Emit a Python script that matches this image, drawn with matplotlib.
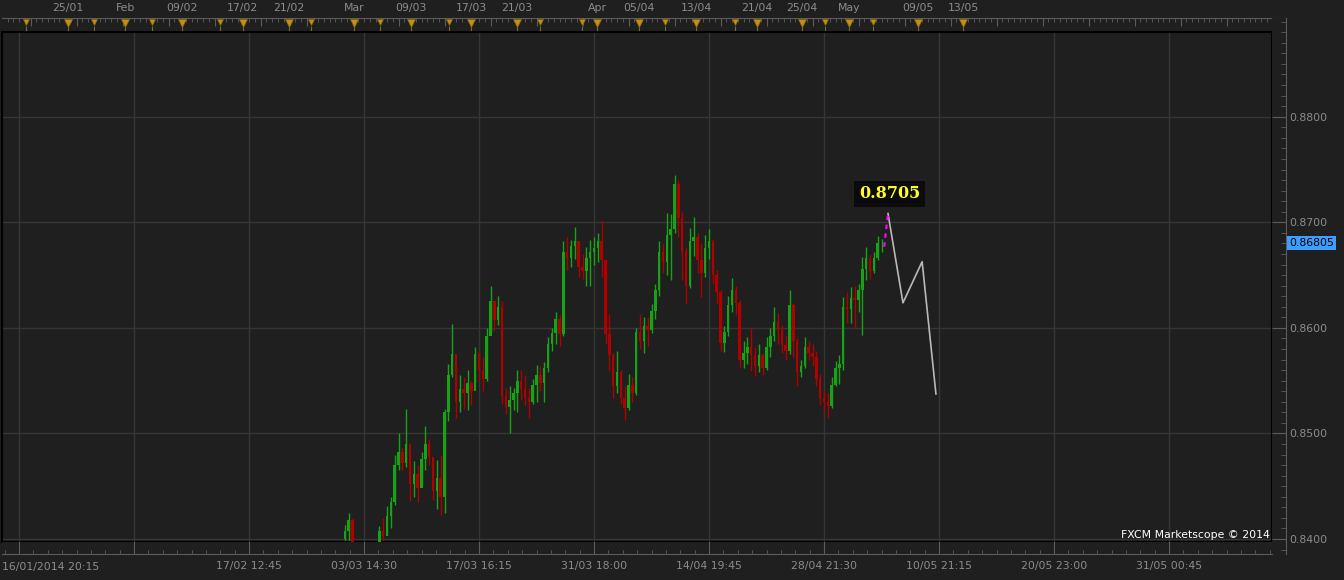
import numpy as np
import matplotlib
matplotlib.use('Agg')
import matplotlib.pyplot as plt
import matplotlib.transforms as mtransforms
from matplotlib.ticker import FixedLocator, MultipleLocator

W, H = 1344, 580
BG = '#1f1f1f'
GRID = '#363636'
FRAME = '#5c5c5c'
TXT = '#8c8c8c'
GREEN = '#16a316'
RED = '#b00000'

# bar index of the first candle (one candle = 8 hours, 30 candles per grid step)
FIRST_BAR = 85

highs = [.8413, .8425, .8420, .8398, .8394, .8392, .8394, .8399, .8396, .8412,
         .8420, .8431, .8440, .8480, .8500, .8486, .8523, .8482, .8474, .8470,
         .8482, .8507, .8495, .8470, .8475, .8480, .8523, .8566, .8604, .8565,
         .8555, .8553, .8560, .8550, .8582, .8578, .8572, .8600, .8640, .8622,
         .8630, .8625, .8543, .8545, .8543, .8560, .8560, .8555, .8543, .8552,
         .8565, .8564, .8568, .8591, .8600, .8615, .8612, .8682, .8686, .8683,
         .8696, .8680, .8670, .8677, .8683, .8686, .8690, .8701, .8665, .8613,
         .8576, .8578, .8560, .8545, .8556, .8553, .8600, .8613, .8610, .8610,
         .8623, .8642, .8682, .8680, .8709, .8708, .8745, .8740, .8710, .8676,
         .8695, .8705, .8690, .8680, .8688, .8694, .8684, .8655, .8636, .8602,
         .8630, .8647, .8640, .8626, .8588, .8591, .8600, .8582, .8585, .8576,
         .8591, .8600, .8620, .8614, .8603, .8592, .8636, .8624, .8590, .8570,
         .8591, .8588, .8585, .8578, .8556, .8540, .8538, .8553, .8569, .8574,
         .8629, .8634, .8639, .8640, .8642, .8667, .8677, .8670, .8672, .8687,
         .8684]
lows = [.8397, .8398, .8394, .8385, .8384, .8382, .8383, .8385, .8385, .8390,
        .8398, .8404, .8410, .8432, .8465, .8465, .8468, .8436, .8440, .8435,
        .8452, .8465, .8470, .8437, .8428, .8423, .8425, .8512, .8553, .8515,
        .8520, .8523, .8522, .8527, .8548, .8550, .8540, .8550, .8595, .8597,
        .8603, .8528, .8518, .8500, .8522, .8520, .8532, .8527, .8515, .8528,
        .8530, .8540, .8530, .8558, .8578, .8585, .8583, .8592, .8655, .8658,
        .8665, .8648, .8646, .8640, .8640, .8660, .8662, .8648, .8585, .8559,
        .8534, .8538, .8528, .8513, .8522, .8530, .8536, .8580, .8576, .8583,
        .8595, .8608, .8630, .8652, .8650, .8645, .8690, .8686, .8645, .8623,
        .8638, .8668, .8652, .8629, .8648, .8665, .8642, .8624, .8578, .8577,
        .8592, .8615, .8612, .8563, .8562, .8566, .8559, .8554, .8558, .8555,
        .8560, .8572, .8588, .8585, .8576, .8570, .8575, .8572, .8545, .8553,
        .8562, .8570, .8564, .8545, .8527, .8520, .8515, .8524, .8545, .8547,
        .8560, .8605, .8605, .8600, .8615, .8593, .8645, .8646, .8652, .8664,
        .8672]
closes = [.8408, .8418, .8396, .8390, .8388, .8386, .8391, .8388, .8393, .8408,
          .8403, .8422, .8435, .8470, .8482, .8472, .8490, .8452, .8462, .8448,
          .8476, .8490, .8478, .8445, .8458, .8440, .8520, .8555, .8575, .8530,
          .8542, .8538, .8548, .8540, .8575, .8560, .8552, .8592, .8625, .8607,
          .8620, .8535, .8525, .8532, .8538, .8550, .8542, .8534, .8530, .8546,
          .8555, .8548, .8562, .8585, .8595, .8608, .8594, .8672, .8666, .8678,
          .8682, .8658, .8654, .8666, .8672, .8676, .8682, .8664, .8594, .8574,
          .8545, .8558, .8534, .8524, .8546, .8538, .8596, .8588, .8602, .8598,
          .8616, .8636, .8672, .8662, .8688, .8694, .8736, .8704, .8672, .8640,
          .8682, .8686, .8664, .8652, .8676, .8682, .8650, .8634, .8586, .8596,
          .8622, .8636, .8624, .8570, .8576, .8582, .8574, .8564, .8574, .8562,
          .8582, .8592, .8606, .8598, .8584, .8578, .8622, .8588, .8558, .8564,
          .8582, .8576, .8572, .8552, .8534, .8530, .8526, .8546, .8562, .8566,
          .8620, .8618, .8628, .8626, .8636, .8656, .8666, .8654, .8666, .8680,
          .86805]
first_open = .8400

# forecast path (bar index, price) and the dotted link to it
proj_x = [226.7, 230.6, 235.6, 239.2]
proj_y = [.87083, .86237, .86627, .85374]
link_x = [225.7, 226.7]
link_y = [.86769, .87083]
proj_label = '0.8705'
last_price = '0.86805'

# bottom time axis
time_ticks = [0, 30, 60, 90, 120, 150, 180, 210, 240, 270, 300]
time_labels = ['', '', '17/02 12:45', '03/03 14:30', '17/03 16:15', '31/03 18:00',
               '14/04 19:45', '28/04 21:30', '10/05 21:15', '20/05 23:00', '31/05 00:45']
first_time_label = '16/01/2014 20:15'

# event markers on the top strip
event_pos = [12.8, 27.7, 42.5, 58.4, 70.4, 87.4, 102.3, 117.9, 129.9, 150.8,
             161.8, 176.6, 192.5, 204.3, 216.5, 234.5, 246.3]
event_labels = ['25/01', 'Feb', '09/02', '17/02', '21/02', 'Mar', '09/03', '17/03', '21/03',
                'Apr', '05/04', '13/04', '21/04', '25/04', 'May', '09/05', '13/05']
minor_event_pos = [1.8, 19.6, 34.7, 52.4, 76.2, 94.2, 112.2, 135.9, 146.9, 168.5,
                   186.8, 210.3, 222.8]

price_ticks = [.84, .85, .86, .87, .88]

assert len(highs) == len(lows) == len(closes)

# pixel -> data helpers for the layout
PX_PER_BAR = 115 / 30
X0_PX = 19
PX_PER_UNIT = 10557
Y84_PX = 539


def bar_at(px):
    return (px - X0_PX) / PX_PER_BAR


def price_at(py):
    return .84 + (Y84_PX - py) / PX_PER_UNIT


def fig_rect(x0, y0, x1, y1):
    return [x0 / W, 1 - y1 / H, (x1 - x0) / W, (y1 - y0) / H]


plt.rcParams['font.family'] = ['DejaVu Sans']
fig = plt.figure(figsize=(W / 100, H / 100), dpi=100, facecolor=BG)

# ---- main price panel
ax = fig.add_axes(fig_rect(2, 32, 1272, 541.7))
ax.set_facecolor(BG)
ax.set_xlim(bar_at(2), bar_at(1272))
ax.set_ylim(price_at(541.7), price_at(32))
for s in ax.spines.values():
    s.set_color('black')
    s.set_linewidth(1.5)
ax.set_xticks([])
ax.set_yticks([])
for t in time_ticks:
    ax.axvline(t, color=GRID, lw=1, zorder=0)
for p in price_ticks:
    ax.axhline(p, color=GRID, lw=1, zorder=0)

idx = np.arange(FIRST_BAR, FIRST_BAR + len(closes))
c = np.array(closes)
o = np.array([first_open] + closes[:-1])
up = c >= o
cols = np.where(up, GREEN, RED)
ax.vlines(idx, lows, highs, colors=cols, lw=1.0, zorder=2)
body_lo = np.minimum(o, c)
body_h = np.maximum(np.abs(c - o), 0.00008)
ax.bar(idx, body_h, bottom=body_lo, width=0.62, color=cols, lw=0, zorder=3)

ax.plot(proj_x, proj_y, color='#b9b9b9', lw=1.2, zorder=4)
ax.plot(link_x, link_y, color='#ff00ff', lw=1.6, ls=(0, (2, 2)), zorder=4)
ax.text(bar_at(889.5), price_at(194), proj_label, color='#ffff22', fontsize=11.5,
        fontweight='bold', family='DejaVu Serif', ha='center', va='center', zorder=6,
        bbox=dict(boxstyle='square,pad=0.28', fc='#0b0b0b', ec='none'))
ax.text(0.9985, 0.004, 'FXCM Marketscope \u00a9 2014', transform=ax.transAxes,
        color='white', fontsize=7.8, ha='right', va='bottom', zorder=6)

# ---- bottom time strip
axb = fig.add_axes(fig_rect(2, 541.7, 1272, 554))
axb.set_facecolor(BG)
axb.set_xlim(bar_at(2), bar_at(1272))
axb.set_ylim(0, 1)
axb.set_yticks([])
for k, s in axb.spines.items():
    s.set_visible(k == 'bottom')
axb.spines['bottom'].set_color(FRAME)
axb.xaxis.set_major_locator(FixedLocator(time_ticks))
axb.set_xticklabels(time_labels)
axb.xaxis.set_minor_locator(MultipleLocator(30 / 8))
axb.tick_params(axis='x', which='major', direction='in', length=9.2, color=FRAME,
                labelcolor=TXT, labelsize=7.8, pad=5)
axb.tick_params(axis='x', which='minor', direction='in', length=3.2, color=FRAME)
axb.text(0.0, -0.62, first_time_label, transform=axb.transAxes, color=TXT,
         fontsize=7.8, ha='left', va='top')

# ---- top event strip
axt = fig.add_axes(fig_rect(2, 18, 1286, 31))
axt.set_facecolor(BG)
axt.set_xlim(bar_at(2), bar_at(1286))
axt.set_ylim(0, 1)
axt.set_yticks([])
for k, s in axt.spines.items():
    s.set_visible(k == 'top')
axt.spines['top'].set_color(FRAME)
axt.xaxis.tick_top()
axt.xaxis.set_major_locator(FixedLocator(np.arange(3, 331, 12)))
axt.xaxis.set_minor_locator(MultipleLocator(1.5))
axt.tick_params(axis='x', which='major', direction='in', length=6, color=FRAME,
                labeltop=False, labelbottom=False)
axt.tick_params(axis='x', which='minor', direction='in', length=2.6, color=FRAME)
axt.vlines(event_pos + minor_event_pos, 0, 0.4, colors='#7d6a3a', lw=0.8)
axt.plot(event_pos, [0.6] * len(event_pos), 'v', ms=5.2, color='#c39013',
         mec='#8a6608', mew=0.5, clip_on=False)
axt.plot(minor_event_pos, [0.66] * len(minor_event_pos), 'v', ms=4.0, color='#c39013',
         mec='#8a6608', mew=0.5, clip_on=False)
for pos, lab in zip(event_pos, event_labels):
    axt.text(pos, 1.77, lab, color=TXT, fontsize=7.8, ha='center', va='center')

# ---- right price strip
axr = fig.add_axes(fig_rect(1272, 18, 1286, 554))
axr.set_facecolor(BG)
axr.set_ylim(price_at(554), price_at(18))
axr.set_xlim(0, 1)
axr.set_xticks([])
for k, s in axr.spines.items():
    s.set_visible(k == 'right')
axr.spines['right'].set_color(FRAME)
axr.yaxis.tick_right()
axr.yaxis.set_major_locator(FixedLocator(price_ticks))
axr.set_yticklabels(['%.4f' % p for p in price_ticks])
axr.yaxis.set_minor_locator(MultipleLocator(0.001))
axr.tick_params(axis='y', which='major', direction='in', length=10, color=FRAME,
                labelcolor=TXT, labelsize=7.8, pad=2.5)
axr.tick_params(axis='y', which='minor', direction='in', length=3.6, color=FRAME)
trans = mtransforms.blended_transform_factory(axr.transAxes, axr.transData)
axr.text(1.22, closes[-1], last_price, transform=trans, color='black', fontsize=7.8,
         ha='left', va='center', clip_on=False,
         bbox=dict(boxstyle='square,pad=0.15', fc='#3d9eff', ec='none'))

fig.savefig('out.png', dpi=100, facecolor=BG)
